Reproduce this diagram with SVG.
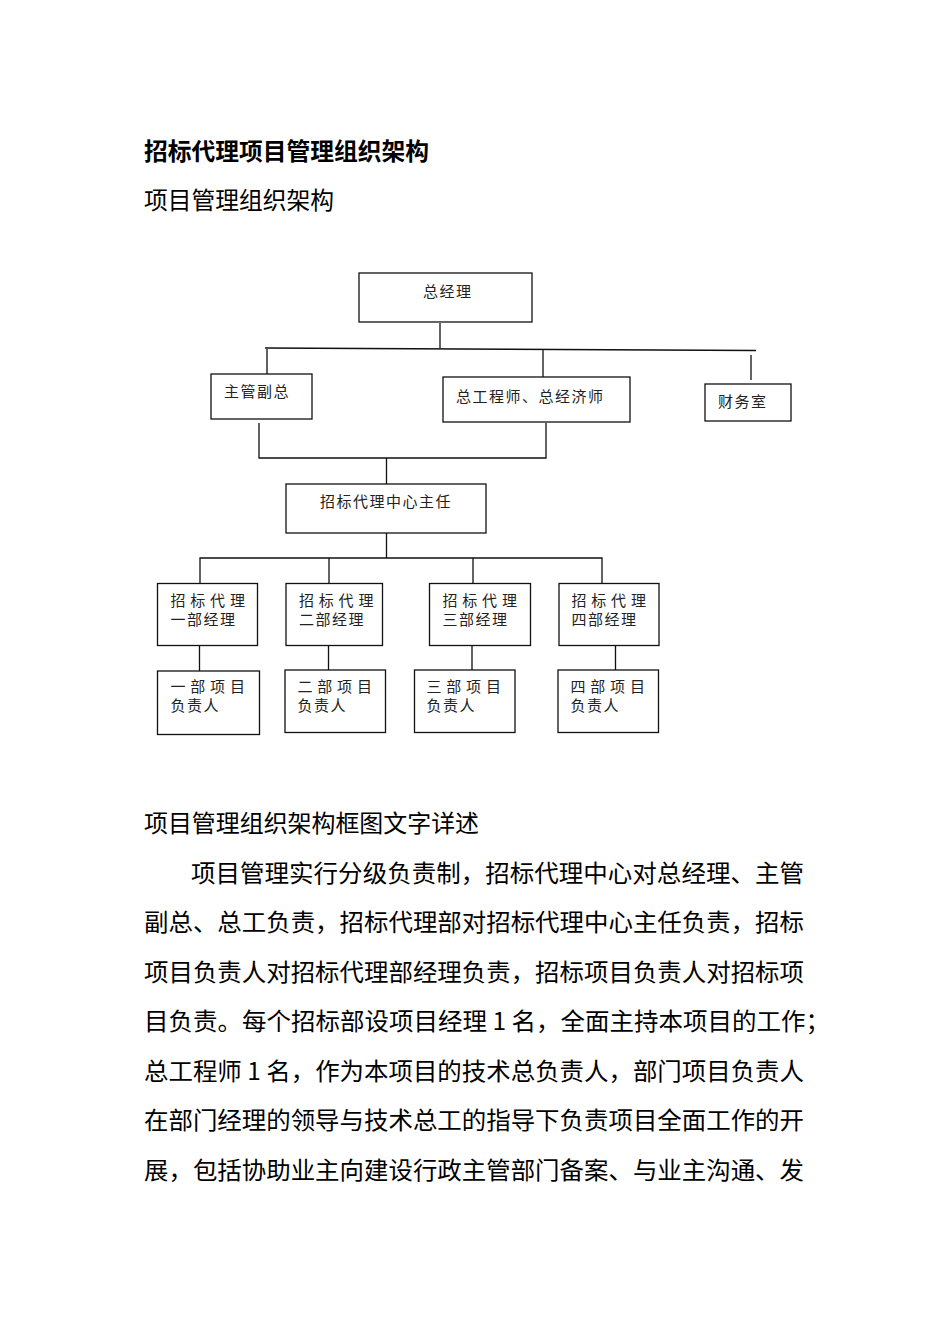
<svg xmlns="http://www.w3.org/2000/svg" width="950" height="1344" viewBox="0 0 950 1344">
<style>
.bg{fill:#fff}
.box{fill:#fff;stroke:#111;stroke-width:1.3}
.ln{stroke:#111;stroke-width:1.3;fill:none}
.t{font-family:"Noto Sans CJK SC","Noto Sans",sans-serif;font-size:15px;fill:#222;letter-spacing:1.5px}
.w{letter-spacing:4.8px}
.h{font-family:"Noto Sans CJK SC","Noto Sans",sans-serif;font-size:24px;fill:#000}
.hb{font-weight:bold}
.p{font-family:"Noto Sans CJK SC","Noto Sans",sans-serif;font-size:24.4px;fill:#000}
</style>
<rect class="bg" x="0" y="0" width="950" height="1344"/>
<text class="h hb" x="144" y="160" textLength="285" lengthAdjust="spacingAndGlyphs">招标代理项目管理组织架构</text>
<text class="h" x="144" y="209" textLength="190" lengthAdjust="spacingAndGlyphs">项目管理组织架构</text>

<g id="connectors">
<path class="ln" d="M440 323V348M265 348L756 350.5M267 348V374M543 350V377M751 355V380"/>
<path class="ln" d="M259 423V458H546V423M386.5 458V484"/>
<path class="ln" d="M386.5 533V558M200 583V558H602V583M329 558V583M473 558V583"/>
<path class="ln" d="M199.5 645V671M328.5 645V670M472 645V670M615.5 645V670"/>
</g>

<g id="n-gm"><rect class="box" x="359" y="273" width="173" height="49"/><text class="t" x="423" y="297">总经理</text></g>
<g id="n-vp"><rect class="box" x="211" y="374" width="101" height="45"/><text class="t" x="224" y="397">主管副总</text></g>
<g id="n-ce"><rect class="box" x="443" y="377" width="187" height="45"/><text class="t" x="456" y="401.5">总工程师、总经济师</text></g>
<g id="n-fin"><rect class="box" x="705" y="384" width="86" height="37"/><text class="t" x="718" y="407">财务室</text></g>
<g id="n-dir"><rect class="box" x="286" y="484" width="200" height="49"/><text class="t" x="320" y="506.5">招标代理中心主任</text></g>

<g id="n-m1"><rect class="box" x="157.5" y="583.5" width="100" height="62"/><text class="t w" x="170.5" y="605.5">招标代理</text><text class="t" x="170.5" y="624.5">一部经理</text></g>
<g id="n-m2"><rect class="box" x="286" y="583.5" width="96.5" height="62"/><text class="t w" x="299" y="605.5">招标代理</text><text class="t" x="299" y="624.5">二部经理</text></g>
<g id="n-m3"><rect class="box" x="429.5" y="583.5" width="101" height="62"/><text class="t w" x="442.5" y="605.5">招标代理</text><text class="t" x="442.5" y="624.5">三部经理</text></g>
<g id="n-m4"><rect class="box" x="559" y="583.5" width="100" height="62"/><text class="t w" x="571.5" y="605.5">招标代理</text><text class="t" x="571.5" y="624.5">四部经理</text></g>

<g id="n-p1"><rect class="box" x="157.5" y="671" width="102" height="63.5"/><text class="t w" x="170.5" y="692">一部项目</text><text class="t" x="170.5" y="710.5">负责人</text></g>
<g id="n-p2"><rect class="box" x="285" y="670" width="100.5" height="62.5"/><text class="t w" x="297.5" y="692">二部项目</text><text class="t" x="297.5" y="710.5">负责人</text></g>
<g id="n-p3"><rect class="box" x="414.5" y="670" width="100.5" height="62.5"/><text class="t w" x="426.5" y="692">三部项目</text><text class="t" x="426.5" y="710.5">负责人</text></g>
<g id="n-p4"><rect class="box" x="558" y="670" width="100.5" height="62.5"/><text class="t w" x="570.5" y="692">四部项目</text><text class="t" x="570.5" y="710.5">负责人</text></g>

<text class="h" x="144" y="832" textLength="335" lengthAdjust="spacingAndGlyphs">项目管理组织架构框图文字详述</text>
<text class="p" x="191" y="881.5" textLength="613" lengthAdjust="spacingAndGlyphs">项目管理实行分级负责制，招标代理中心对总经理、主管</text>
<text class="p" x="144" y="931" textLength="660" lengthAdjust="spacingAndGlyphs">副总、总工负责，招标代理部对招标代理中心主任负责，招标</text>
<text class="p" x="144" y="980.5" textLength="660" lengthAdjust="spacingAndGlyphs">项目负责人对招标代理部经理负责，招标项目负责人对招标项</text>
<text class="p" x="144" y="1030" textLength="686" lengthAdjust="spacingAndGlyphs">目负责。每个招标部设项目经理 1 名，全面主持本项目的工作；</text>
<text class="p" x="144" y="1079.5" textLength="660" lengthAdjust="spacingAndGlyphs">总工程师 1 名，作为本项目的技术总负责人，部门项目负责人</text>
<text class="p" x="144" y="1129" textLength="660" lengthAdjust="spacingAndGlyphs">在部门经理的领导与技术总工的指导下负责项目全面工作的开</text>
<text class="p" x="144" y="1178.5" textLength="660" lengthAdjust="spacingAndGlyphs">展，包括协助业主向建设行政主管部门备案、与业主沟通、发</text>
</svg>
